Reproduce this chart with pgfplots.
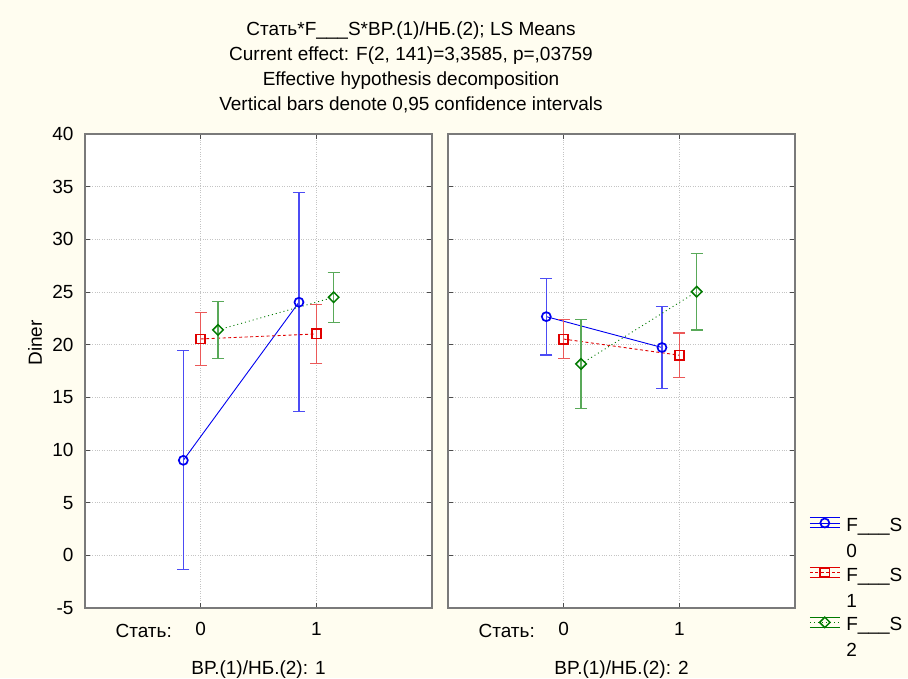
\documentclass[border=0pt]{standalone}
\usepackage{pgfplots}
\pgfplotsset{compat=1.18}
\usepackage{fontspec}
\setmainfont{Liberation Sans}
\definecolor{Cream}{HTML}{FFFDF0}
\definecolor{Frame}{HTML}{7A7A7A}
\definecolor{GridC}{HTML}{C4C4C4}
\definecolor{SBlue}{HTML}{0000F0}
\definecolor{SRed}{HTML}{E00000}
\definecolor{SGreen}{HTML}{007A00}
\newcommand{\lbl}{\fontsize{19}{22}\selectfont}

\pgfplotsset{
  panel/.style={
    scale only axis,width=347pt,height=474pt,
    xmin=-1,xmax=2,ymin=-5,ymax=40,
    xtick={0,1},xticklabels={0,1},
    ytick={-5,0,...,40},
    axis background/.style={fill=white},
    axis line style={draw=Frame,line width=1.4pt},
    grid=major,grid style={draw=GridC,dotted,line width=0.8pt},
    tick align=inside,major tick length=5pt,
    tick style={draw=black!70,line width=0.8pt},
    tick label style={font=\lbl},
    xticklabel style={yshift=-11pt},
    yticklabel style={xshift=-8pt},
    /pgf/number format/assume math mode=true,
    clip=false,
  },
  eb/.style={error bars/.cd,y dir=both,y explicit,error mark=-,
    error bar style={solid,line width=1.2pt,draw=#1},
    error mark options={rotate=90,solid,mark size=6pt,line width=1.2pt,draw=#1}},
  sblue/.style={SBlue,line width=0.9pt,mark=o,mark size=4.5pt,
    mark options={solid,fill=white,line width=1.7pt}},
  sred/.style={SRed,line width=0.9pt,dash pattern=on 3pt off 2.5pt,mark=square,mark size=4.6pt,
    mark options={solid,fill=white,line width=1.7pt}},
  sgreen/.style={SGreen,line width=0.9pt,dash pattern=on 1pt off 3pt,mark=square,mark size=3.7pt,
    mark options={solid,fill=white,line width=1.5pt,rotate=45}},
}

\begin{document}
\begin{tikzpicture}
\useasboundingbox (0pt,0pt) rectangle (908pt,678pt);
\fill[Cream] (0pt,0pt) rectangle (908pt,678pt);

% title
\node[anchor=base,font=\lbl] at (411pt,642.5pt) {Стать*F\_\_\_S*BP.(1)/HБ.(2); LS Means};
\node[anchor=base,font=\lbl] at (411pt,617.5pt) {Current effect: F(2, 141)=3,3585, p=,03759};
\node[anchor=base,font=\lbl] at (411pt,592.5pt) {Effective hypothesis decomposition};
\node[anchor=base,font=\lbl] at (411pt,567.5pt) {Vertical bars denote 0,95 confidence intervals};

\node[rotate=90,font=\lbl] at (35pt,335pt) {Diner};

\begin{axis}[panel,at={(85pt,70pt)},anchor=south west]
\addplot[sblue,eb=SBlue!70] coordinates {(-0.15,9.02) +- (0,10.4) (0.85,24.03) +- (0,10.4)};
\addplot[sred,eb=SRed!65] coordinates {(0,20.54) +- (0,2.53) (1,21.02) +- (0,2.8)};
\addplot[sgreen,eb=SGreen!65] coordinates {(0.15,21.4) +- (0,2.68) (1.15,24.5) +- (0,2.38)};
\end{axis}

\begin{axis}[panel,at={(448pt,70pt)},anchor=south west,yticklabels={},
  legend style={at={(1.032,0.209)},anchor=north west,draw=none,fill=none,
    font=\lbl,row sep=26pt,column sep=4pt,cells={anchor=west}},
  legend cell align=left,
  legend image code/.code={
    \draw[#1,solid,line width=1pt] (0pt,5pt) -- (30pt,5pt);
    \draw[#1,solid,line width=1pt] (0pt,-5pt) -- (30pt,-5pt);
    \draw[#1] (0pt,0pt) -- (30pt,0pt);
    \draw[#1,only marks] plot coordinates {(15pt,0pt)};
  }]
\addplot[sblue,eb=SBlue!70] coordinates {(-0.15,22.66) +- (0,3.65) (0.85,19.73) +- (0,3.9)};
\addlegendentry{\fontsize{19}{26}\selectfont\begin{tabular}[t]{@{}l@{}}F\_\_\_S\\0\end{tabular}}
\addplot[sred,eb=SRed!65] coordinates {(0,20.53) +- (0,1.83) (1,19.0) +- (0,2.1)};
\addlegendentry{\fontsize{19}{26}\selectfont\begin{tabular}[t]{@{}l@{}}F\_\_\_S\\1\end{tabular}}
\addplot[sgreen,eb=SGreen!65] coordinates {(0.15,18.17) +- (0,4.2) (1.15,25.03) +- (0,3.64)};
\addlegendentry{\fontsize{19}{26}\selectfont\begin{tabular}[t]{@{}l@{}}F\_\_\_S\\2\end{tabular}}
\end{axis}

% category captions under the panels
\node[anchor=base east,font=\lbl,inner sep=0] at (172pt,41pt) {Стать:};
\node[anchor=base east,font=\lbl,inner sep=0] at (535pt,41pt) {Стать:};
\node[anchor=base,font=\lbl,inner sep=0] at (258.5pt,4pt) {BP.(1)/HБ.(2): 1};
\node[anchor=base,font=\lbl,inner sep=0] at (621.5pt,4pt) {BP.(1)/HБ.(2): 2};
\end{tikzpicture}
\end{document}
